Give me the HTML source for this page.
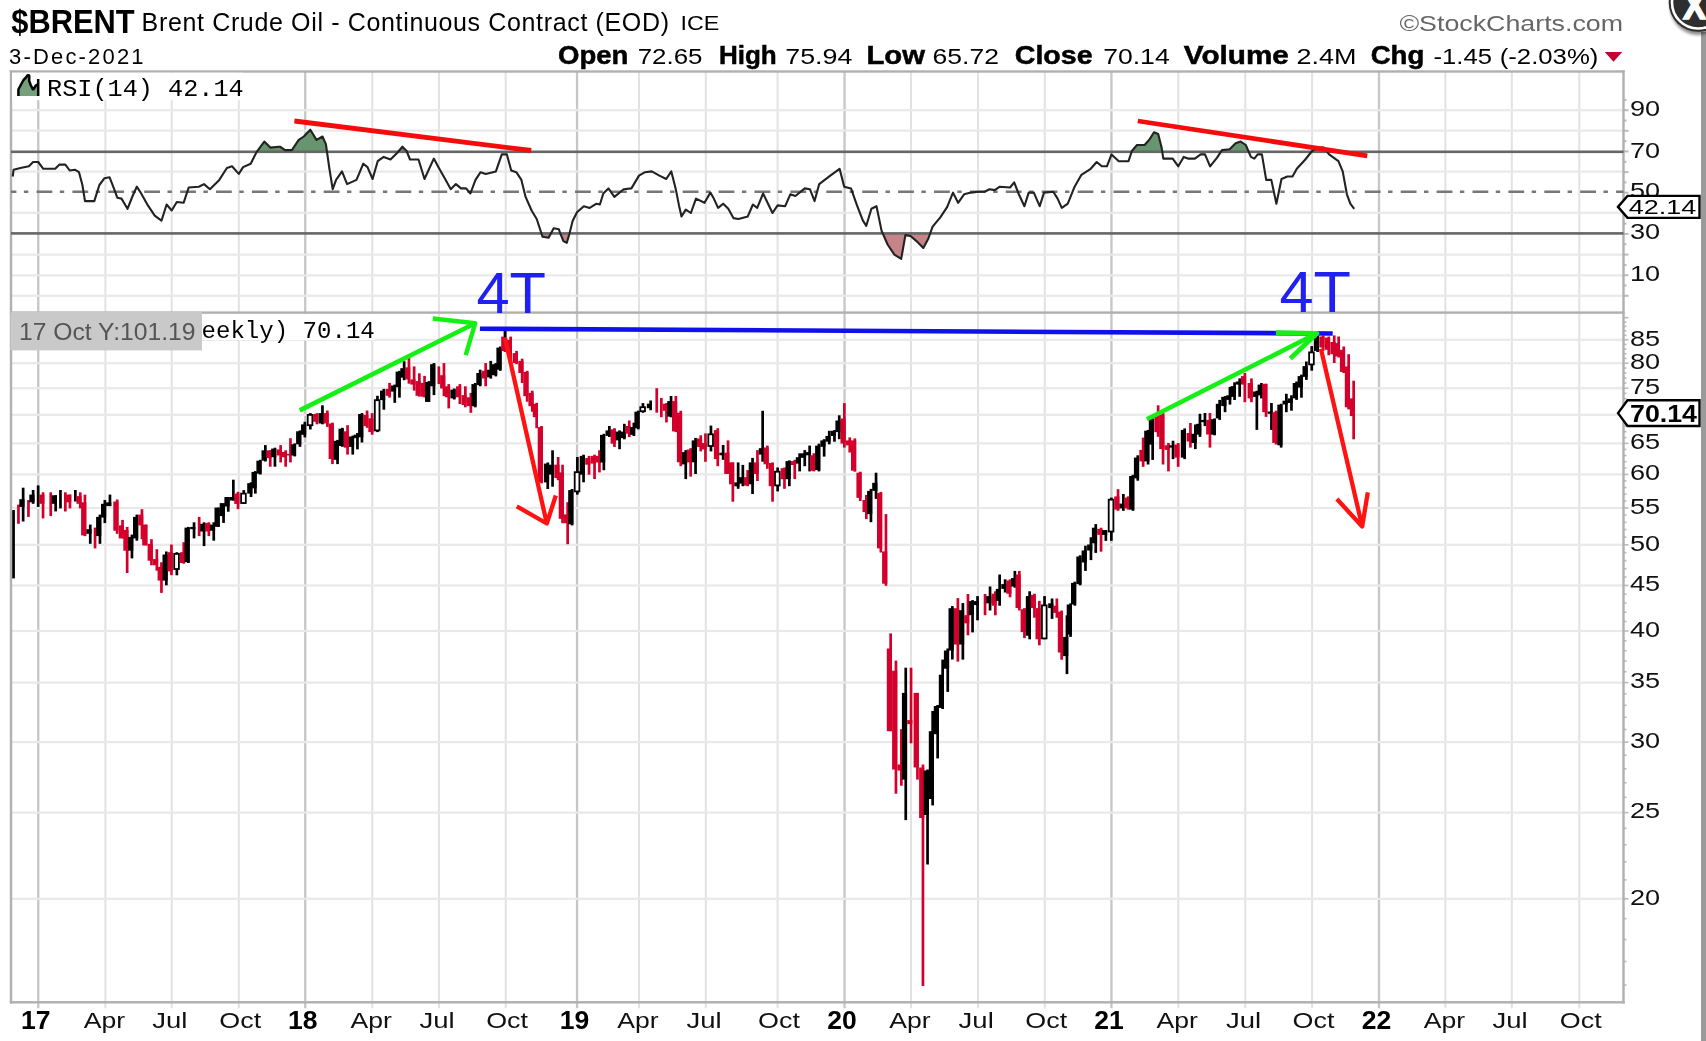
<!DOCTYPE html><html><head><meta charset="utf-8"><title>$BRENT</title><style>
html,body{margin:0;padding:0;background:#fff}body{width:1706px;height:1041px;position:relative;overflow:hidden;font-family:"Liberation Sans",sans-serif}
</style></head><body>
<div style="position:absolute;left:1701px;top:32px;width:5px;height:1009px;background:#9a9a9a"></div>
<svg width="1706" height="1041" viewBox="0 0 1706 1041" style="position:absolute;left:0;top:0;filter:blur(0.6px)">
<rect x="37.1" y="71.5" width="2.3" height="936.8" fill="#c6c6c6"/>
<rect x="104.4" y="71.5" width="2.0" height="936.8" fill="#e2e2e2"/>
<rect x="170.7" y="71.5" width="2.0" height="936.8" fill="#e2e2e2"/>
<rect x="237.8" y="71.5" width="2.0" height="936.8" fill="#e2e2e2"/>
<rect x="304.1" y="71.5" width="2.3" height="936.8" fill="#c6c6c6"/>
<rect x="371.3" y="71.5" width="2.0" height="936.8" fill="#e2e2e2"/>
<rect x="437.9" y="71.5" width="2.0" height="936.8" fill="#e2e2e2"/>
<rect x="504.7" y="71.5" width="2.0" height="936.8" fill="#e2e2e2"/>
<rect x="575.9" y="71.5" width="2.3" height="936.8" fill="#c6c6c6"/>
<rect x="638.0" y="71.5" width="2.0" height="936.8" fill="#e2e2e2"/>
<rect x="704.8" y="71.5" width="2.0" height="936.8" fill="#e2e2e2"/>
<rect x="776.6" y="71.5" width="2.0" height="936.8" fill="#e2e2e2"/>
<rect x="843.4" y="71.5" width="2.3" height="936.8" fill="#c6c6c6"/>
<rect x="910.0" y="71.5" width="2.0" height="936.8" fill="#e2e2e2"/>
<rect x="977.0" y="71.5" width="2.0" height="936.8" fill="#e2e2e2"/>
<rect x="1043.8" y="71.5" width="2.0" height="936.8" fill="#e2e2e2"/>
<rect x="1110.3" y="71.5" width="2.3" height="936.8" fill="#c6c6c6"/>
<rect x="1177.3" y="71.5" width="2.0" height="936.8" fill="#e2e2e2"/>
<rect x="1244.3" y="71.5" width="2.0" height="936.8" fill="#e2e2e2"/>
<rect x="1311.1" y="71.5" width="2.0" height="936.8" fill="#e2e2e2"/>
<rect x="1377.8" y="71.5" width="2.3" height="936.8" fill="#c6c6c6"/>
<rect x="1444.4" y="71.5" width="2.0" height="936.8" fill="#e2e2e2"/>
<rect x="1510.8" y="71.5" width="2.0" height="936.8" fill="#e2e2e2"/>
<rect x="1578.3" y="71.5" width="2.0" height="936.8" fill="#e2e2e2"/>
<rect x="11.0" y="109.1" width="1612.5" height="2.2" fill="#e9e9e9"/>
<rect x="11.0" y="129.5" width="1612.5" height="2.2" fill="#e9e9e9"/>
<rect x="11.0" y="170.5" width="1612.5" height="2.2" fill="#e9e9e9"/>
<rect x="11.0" y="211.7" width="1612.5" height="2.2" fill="#e9e9e9"/>
<rect x="11.0" y="253.5" width="1612.5" height="2.2" fill="#e9e9e9"/>
<rect x="11.0" y="274.3" width="1612.5" height="2.2" fill="#e9e9e9"/>
<rect x="11.0" y="294.7" width="1612.5" height="2.2" fill="#e9e9e9"/>
<rect x="11.0" y="338.7" width="1612.5" height="2.2" fill="#e9e9e9"/>
<rect x="11.0" y="362.1" width="1612.5" height="2.2" fill="#e9e9e9"/>
<rect x="11.0" y="387.1" width="1612.5" height="2.2" fill="#e9e9e9"/>
<rect x="11.0" y="413.7" width="1612.5" height="2.2" fill="#e9e9e9"/>
<rect x="11.0" y="442.3" width="1612.5" height="2.2" fill="#e9e9e9"/>
<rect x="11.0" y="473.3" width="1612.5" height="2.2" fill="#e9e9e9"/>
<rect x="11.0" y="506.9" width="1612.5" height="2.2" fill="#e9e9e9"/>
<rect x="11.0" y="543.7" width="1612.5" height="2.2" fill="#e9e9e9"/>
<rect x="11.0" y="584.4" width="1612.5" height="2.2" fill="#e9e9e9"/>
<rect x="11.0" y="629.9" width="1612.5" height="2.2" fill="#e9e9e9"/>
<rect x="11.0" y="681.5" width="1612.5" height="2.2" fill="#e9e9e9"/>
<rect x="11.0" y="741.0" width="1612.5" height="2.2" fill="#e9e9e9"/>
<rect x="11.0" y="811.5" width="1612.5" height="2.2" fill="#e9e9e9"/>
<rect x="11.0" y="897.7" width="1612.5" height="2.2" fill="#e9e9e9"/>
<rect x="1623.5" y="294.8" width="5" height="2" fill="#bbb"/>
<rect x="1623.5" y="284.5" width="3" height="2" fill="#bbb"/>
<rect x="1623.5" y="274.2" width="5" height="2" fill="#bbb"/>
<rect x="1623.5" y="263.9" width="3" height="2" fill="#bbb"/>
<rect x="1623.5" y="253.6" width="5" height="2" fill="#bbb"/>
<rect x="1623.5" y="243.2" width="3" height="2" fill="#bbb"/>
<rect x="1623.5" y="232.9" width="5" height="2" fill="#bbb"/>
<rect x="1623.5" y="222.6" width="3" height="2" fill="#bbb"/>
<rect x="1623.5" y="212.3" width="5" height="2" fill="#bbb"/>
<rect x="1623.5" y="202.0" width="3" height="2" fill="#bbb"/>
<rect x="1623.5" y="191.7" width="5" height="2" fill="#bbb"/>
<rect x="1623.5" y="181.4" width="3" height="2" fill="#bbb"/>
<rect x="1623.5" y="171.1" width="5" height="2" fill="#bbb"/>
<rect x="1623.5" y="160.8" width="3" height="2" fill="#bbb"/>
<rect x="1623.5" y="150.4" width="5" height="2" fill="#bbb"/>
<rect x="1623.5" y="140.1" width="3" height="2" fill="#bbb"/>
<rect x="1623.5" y="129.8" width="5" height="2" fill="#bbb"/>
<rect x="1623.5" y="119.5" width="3" height="2" fill="#bbb"/>
<rect x="1623.5" y="109.2" width="5" height="2" fill="#bbb"/>
<rect x="1623.5" y="98.9" width="3" height="2" fill="#bbb"/>
<rect x="1623.5" y="984.2" width="3" height="1.6" fill="#bbb"/>
<rect x="1623.5" y="960.7" width="3" height="1.6" fill="#bbb"/>
<rect x="1623.5" y="938.7" width="3" height="1.6" fill="#bbb"/>
<rect x="1623.5" y="917.8" width="3" height="1.6" fill="#bbb"/>
<rect x="1623.5" y="898.0" width="5" height="1.6" fill="#bbb"/>
<rect x="1623.5" y="879.1" width="3" height="1.6" fill="#bbb"/>
<rect x="1623.5" y="861.1" width="3" height="1.6" fill="#bbb"/>
<rect x="1623.5" y="844.0" width="3" height="1.6" fill="#bbb"/>
<rect x="1623.5" y="827.5" width="3" height="1.6" fill="#bbb"/>
<rect x="1623.5" y="811.8" width="5" height="1.6" fill="#bbb"/>
<rect x="1623.5" y="796.6" width="3" height="1.6" fill="#bbb"/>
<rect x="1623.5" y="782.0" width="3" height="1.6" fill="#bbb"/>
<rect x="1623.5" y="768.0" width="3" height="1.6" fill="#bbb"/>
<rect x="1623.5" y="754.4" width="3" height="1.6" fill="#bbb"/>
<rect x="1623.5" y="741.3" width="5" height="1.6" fill="#bbb"/>
<rect x="1623.5" y="728.7" width="3" height="1.6" fill="#bbb"/>
<rect x="1623.5" y="716.4" width="3" height="1.6" fill="#bbb"/>
<rect x="1623.5" y="704.5" width="3" height="1.6" fill="#bbb"/>
<rect x="1623.5" y="693.0" width="3" height="1.6" fill="#bbb"/>
<rect x="1623.5" y="681.8" width="5" height="1.6" fill="#bbb"/>
<rect x="1623.5" y="670.9" width="3" height="1.6" fill="#bbb"/>
<rect x="1623.5" y="660.3" width="3" height="1.6" fill="#bbb"/>
<rect x="1623.5" y="650.0" width="3" height="1.6" fill="#bbb"/>
<rect x="1623.5" y="640.0" width="3" height="1.6" fill="#bbb"/>
<rect x="1623.5" y="630.2" width="5" height="1.6" fill="#bbb"/>
<rect x="1623.5" y="620.7" width="3" height="1.6" fill="#bbb"/>
<rect x="1623.5" y="611.4" width="3" height="1.6" fill="#bbb"/>
<rect x="1623.5" y="602.3" width="3" height="1.6" fill="#bbb"/>
<rect x="1623.5" y="593.4" width="3" height="1.6" fill="#bbb"/>
<rect x="1623.5" y="584.7" width="5" height="1.6" fill="#bbb"/>
<rect x="1623.5" y="576.2" width="3" height="1.6" fill="#bbb"/>
<rect x="1623.5" y="567.9" width="3" height="1.6" fill="#bbb"/>
<rect x="1623.5" y="559.8" width="3" height="1.6" fill="#bbb"/>
<rect x="1623.5" y="551.8" width="3" height="1.6" fill="#bbb"/>
<rect x="1623.5" y="544.0" width="5" height="1.6" fill="#bbb"/>
<rect x="1623.5" y="536.4" width="3" height="1.6" fill="#bbb"/>
<rect x="1623.5" y="528.8" width="3" height="1.6" fill="#bbb"/>
<rect x="1623.5" y="521.5" width="3" height="1.6" fill="#bbb"/>
<rect x="1623.5" y="514.3" width="3" height="1.6" fill="#bbb"/>
<rect x="1623.5" y="507.2" width="5" height="1.6" fill="#bbb"/>
<rect x="1623.5" y="500.2" width="3" height="1.6" fill="#bbb"/>
<rect x="1623.5" y="493.4" width="3" height="1.6" fill="#bbb"/>
<rect x="1623.5" y="486.7" width="3" height="1.6" fill="#bbb"/>
<rect x="1623.5" y="480.1" width="3" height="1.6" fill="#bbb"/>
<rect x="1623.5" y="473.6" width="5" height="1.6" fill="#bbb"/>
<rect x="1623.5" y="467.2" width="3" height="1.6" fill="#bbb"/>
<rect x="1623.5" y="460.9" width="3" height="1.6" fill="#bbb"/>
<rect x="1623.5" y="454.7" width="3" height="1.6" fill="#bbb"/>
<rect x="1623.5" y="448.6" width="3" height="1.6" fill="#bbb"/>
<rect x="1623.5" y="442.6" width="5" height="1.6" fill="#bbb"/>
<rect x="1623.5" y="436.8" width="3" height="1.6" fill="#bbb"/>
<rect x="1623.5" y="430.9" width="3" height="1.6" fill="#bbb"/>
<rect x="1623.5" y="425.2" width="3" height="1.6" fill="#bbb"/>
<rect x="1623.5" y="419.6" width="3" height="1.6" fill="#bbb"/>
<rect x="1623.5" y="414.0" width="5" height="1.6" fill="#bbb"/>
<rect x="1623.5" y="408.5" width="3" height="1.6" fill="#bbb"/>
<rect x="1623.5" y="403.1" width="3" height="1.6" fill="#bbb"/>
<rect x="1623.5" y="397.8" width="3" height="1.6" fill="#bbb"/>
<rect x="1623.5" y="392.6" width="3" height="1.6" fill="#bbb"/>
<rect x="1623.5" y="387.4" width="5" height="1.6" fill="#bbb"/>
<rect x="1623.5" y="382.3" width="3" height="1.6" fill="#bbb"/>
<rect x="1623.5" y="377.2" width="3" height="1.6" fill="#bbb"/>
<rect x="1623.5" y="372.2" width="3" height="1.6" fill="#bbb"/>
<rect x="1623.5" y="367.3" width="3" height="1.6" fill="#bbb"/>
<rect x="1623.5" y="362.4" width="5" height="1.6" fill="#bbb"/>
<rect x="1623.5" y="357.6" width="3" height="1.6" fill="#bbb"/>
<rect x="1623.5" y="352.9" width="3" height="1.6" fill="#bbb"/>
<rect x="1623.5" y="348.2" width="3" height="1.6" fill="#bbb"/>
<rect x="1623.5" y="343.6" width="3" height="1.6" fill="#bbb"/>
<rect x="1623.5" y="339.0" width="5" height="1.6" fill="#bbb"/>
<rect x="1623.5" y="334.5" width="3" height="1.6" fill="#bbb"/>
<rect x="1623.5" y="330.0" width="3" height="1.6" fill="#bbb"/>
<rect x="1623.5" y="325.6" width="3" height="1.6" fill="#bbb"/>
<rect x="1623.5" y="321.3" width="3" height="1.6" fill="#bbb"/>
<rect x="1623.5" y="316.9" width="5" height="1.6" fill="#bbb"/>
<rect x="9.8" y="70.3" width="1614.9" height="2.4" fill="#b0b0b0"/>
<rect x="9.8" y="1001.0999999999999" width="1614.9" height="2.4" fill="#b0b0b0"/>
<rect x="9.8" y="311.40000000000003" width="1614.9" height="2.4" fill="#b0b0b0"/>
<rect x="9.8" y="70.3" width="2.4" height="933.2" fill="#b0b0b0"/>
<rect x="1622.3" y="70.3" width="2.4" height="933.2" fill="#b0b0b0"/>
<polygon points="256.7,151.8 264.3,141.6 270.3,147.6 278.8,146.7 280.0,146.7 285.1,150.1 291.9,150.1 298.7,139.9 303.8,136.5 310.3,129.7 316.5,139.9 322.5,136.5 325.9,144.2 327.0,151.8" fill="#66956e"/>
<polygon points="398.1,151.8 402.4,146.7 406.6,151.0 406.9,151.8" fill="#66956e"/>
<polygon points="1131.6,151.8 1131.9,151.0 1137.0,145.0 1144.6,145.0 1149.7,139.1 1154.0,132.3 1158.2,134.0 1161.6,147.6 1162.2,151.8" fill="#66956e"/>
<polygon points="1220.9,151.8 1222.0,150.1 1229.6,149.3 1235.6,143.3 1240.7,141.6 1245.8,145.0 1248.7,151.8" fill="#66956e"/>
<polygon points="1311.5,151.8 1312.1,151.0 1318.0,147.6 1324.0,147.6 1327.1,151.8" fill="#66956e"/>
<polygon points="541.5,233.4 542.6,236.8 548.6,237.7 550.9,233.4" fill="#c58588"/>
<polygon points="560.3,233.4 563.4,241.1 566.8,242.8 569.3,234.3 569.5,233.4" fill="#c58588"/>
<polygon points="882.7,233.4 887.6,244.5 894.4,254.7 901.2,258.9 905.4,235.1 910.5,236.0 916.5,241.1 923.3,247.9 928.4,238.5 930.2,233.4" fill="#c58588"/>
<rect x="11.0" y="150.5" width="1612.5" height="2.6" fill="#666"/>
<rect x="11.0" y="232.1" width="1612.5" height="2.6" fill="#666"/>
<line x1="11.0" y1="191.8" x2="1623.5" y2="191.8" stroke="#777" stroke-width="2.4" stroke-dasharray="15.8 7.5 4.4 8.2" stroke-dashoffset="10.4"/>
<polyline points="12.7,176.5 13.6,169.7 20.4,168.0 28.9,166.3 33.1,162.0 38.2,162.0 43.3,168.8 55.2,168.8 59.5,164.6 65.4,164.6 69.7,170.5 74.8,169.7 79.0,172.2 82.4,185.0 85.0,201.1 94.3,201.1 99.4,185.0 104.5,178.2 109.6,177.3 113.9,188.4 117.3,197.7 121.5,198.6 127.5,208.8 132.6,196.0 136.8,186.7 140.2,191.8 147.9,205.4 154.7,215.6 161.5,220.7 166.6,204.5 171.7,210.5 176.8,202.0 183.6,202.8 188.7,187.5 198.9,186.7 204.0,184.1 209.9,189.2 219.3,179.9 226.9,168.0 232.0,166.3 238.8,173.9 243.1,167.1 250.7,163.7 256.7,151.8 264.3,141.6 270.3,147.6 278.8,146.7 280.0,146.7 285.1,150.1 291.9,150.1 298.7,139.9 303.8,136.5 310.3,129.7 316.5,139.9 322.5,136.5 325.9,144.2 329.3,168.0 332.7,189.2 336.1,179.9 342.0,171.4 347.1,184.1 356.5,179.9 363.3,163.7 367.5,167.1 372.6,179.0 377.7,161.2 383.7,156.9 390.5,159.5 397.3,152.7 402.4,146.7 406.6,151.0 410.0,159.5 418.5,159.5 424.5,179.0 433.8,158.6 438.9,168.0 445.7,179.9 450.8,189.2 455.9,184.1 461.0,188.4 466.1,188.4 470.4,193.5 475.5,179.9 480.6,172.2 485.7,173.9 495.9,171.4 501.8,154.4 506.9,154.4 511.2,170.5 516.3,172.2 521.4,179.9 525.6,196.9 531.6,210.5 536.7,219.0 542.6,236.8 548.6,237.7 553.7,228.3 558.8,229.2 560.0,232.6 563.4,241.1 566.8,242.8 569.3,234.3 572.7,220.7 577.0,212.2 583.8,206.2 589.7,207.9 596.5,203.7 599.9,204.5 603.3,193.5 608.4,188.4 614.4,196.9 623.7,189.2 631.4,188.4 639.0,175.6 645.0,172.2 651.8,171.4 659.4,175.6 666.2,179.0 671.3,171.4 675.6,188.4 679.0,205.4 681.5,216.4 685.8,209.6 690.9,213.0 696.0,198.6 704.5,202.8 710.4,192.6 713.8,198.6 718.1,207.9 723.2,203.7 728.3,208.8 733.4,218.1 738.5,219.0 747.8,216.4 752.9,204.5 757.2,207.9 763.1,193.5 772.5,213.0 777.6,205.4 785.2,206.2 790.3,194.3 795.4,196.0 804.8,188.4 809.9,189.2 814.6,201.1 819.2,184.1 830.3,175.6 839.6,168.8 844.2,186.7 851.0,188.4 857.0,205.4 862.9,220.7 866.3,225.8 871.4,208.8 876.5,206.2 881.6,230.9 887.6,244.5 894.4,254.7 901.2,258.9 905.4,235.1 910.5,236.0 916.5,241.1 923.3,247.9 928.4,238.5 932.6,226.6 940.3,217.3 947.1,207.1 953.0,192.6 958.1,202.8 964.1,194.3 970.9,192.6 978.5,191.8 984.5,191.8 989.6,189.2 994.7,190.1 999.8,186.7 1010.0,187.5 1014.2,182.4 1018.5,193.5 1024.4,206.2 1028.7,192.6 1033.8,192.6 1039.7,206.2 1044.0,192.6 1053.3,191.8 1057.6,198.6 1061.8,207.9 1067.8,203.7 1074.6,186.7 1081.4,174.8 1090.7,168.8 1096.7,162.0 1101.8,166.3 1106.9,166.3 1111.5,154.4 1118.8,161.2 1120.0,161.2 1128.5,161.2 1131.9,151.0 1137.0,145.0 1144.6,145.0 1149.7,139.1 1154.0,132.3 1158.2,134.0 1161.6,147.6 1163.3,158.6 1172.7,158.6 1178.3,166.3 1183.7,156.9 1188.0,158.6 1194.8,158.6 1200.7,154.4 1205.0,154.4 1210.1,166.3 1216.9,157.8 1222.0,150.1 1229.6,149.3 1235.6,143.3 1240.7,141.6 1245.8,145.0 1250.9,156.9 1254.3,158.6 1257.7,154.4 1261.9,154.4 1266.2,179.9 1271.3,179.9 1276.4,203.7 1281.5,179.0 1287.4,176.5 1292.5,176.5 1296.8,168.8 1305.3,159.5 1312.1,151.0 1318.0,147.6 1324.0,147.6 1329.1,154.4 1338.4,161.2 1342.7,171.4 1346.9,194.3 1350.3,203.7 1354.2,208.8" fill="none" stroke="#222" stroke-width="2.1" stroke-linejoin="round"/>
<rect x="12.2" y="510.0" width="2.7" height="68.4" fill="#000"/>
<rect x="17.1" y="504.6" width="2.7" height="19.2" fill="#d4002c"/>
<rect x="21.8" y="487.7" width="2.7" height="33.8" fill="#000"/>
<rect x="19.3" y="499.2" width="5.2" height="7.7" fill="#000"/>
<rect x="27.1" y="500.0" width="2.7" height="16.9" fill="#d4002c"/>
<rect x="31.8" y="490.0" width="2.7" height="13.8" fill="#000"/>
<rect x="29.3" y="494.6" width="5.2" height="7.7" fill="#000"/>
<rect x="36.8" y="485.4" width="2.7" height="21.5" fill="#000"/>
<rect x="41.7" y="492.3" width="2.7" height="26.1" fill="#d4002c"/>
<rect x="39.2" y="494.6" width="5.2" height="9.2" fill="#d4002c"/>
<rect x="49.4" y="492.3" width="2.7" height="23.8" fill="#d4002c"/>
<rect x="54.3" y="495.3" width="2.7" height="16.1" fill="#000"/>
<rect x="51.8" y="495.3" width="5.2" height="8.5" fill="#000"/>
<rect x="59.1" y="490.0" width="2.7" height="18.4" fill="#000"/>
<rect x="64.0" y="492.3" width="2.7" height="19.2" fill="#d4002c"/>
<rect x="68.6" y="494.6" width="2.7" height="13.8" fill="#d4002c"/>
<rect x="66.1" y="494.6" width="5.2" height="7.7" fill="#d4002c"/>
<rect x="74.0" y="490.0" width="2.7" height="11.5" fill="#000"/>
<rect x="78.9" y="492.3" width="2.7" height="16.1" fill="#d4002c"/>
<rect x="76.4" y="496.1" width="5.2" height="7.7" fill="#d4002c"/>
<rect x="83.6" y="494.6" width="2.7" height="41.5" fill="#d4002c"/>
<rect x="81.1" y="502.3" width="5.2" height="33.1" fill="#d4002c"/>
<rect x="88.9" y="524.6" width="2.7" height="19.2" fill="#000"/>
<rect x="86.4" y="529.2" width="5.2" height="4.6" fill="#000"/>
<rect x="93.7" y="527.6" width="2.7" height="20.8" fill="#d4002c"/>
<rect x="98.6" y="514.6" width="2.7" height="29.2" fill="#000"/>
<rect x="96.1" y="516.9" width="5.2" height="19.2" fill="#000"/>
<rect x="103.5" y="500.0" width="2.7" height="23.1" fill="#000"/>
<rect x="101.0" y="503.8" width="5.2" height="13.8" fill="#000"/>
<rect x="108.6" y="494.6" width="2.7" height="11.5" fill="#000"/>
<rect x="106.1" y="502.3" width="5.2" height="3.8" fill="#000"/>
<rect x="115.8" y="499.5" width="2.7" height="34.3" fill="#d4002c"/>
<rect x="113.3" y="501.5" width="5.2" height="29.2" fill="#d4002c"/>
<rect x="121.2" y="519.9" width="2.7" height="18.4" fill="#d4002c"/>
<rect x="118.7" y="525.3" width="5.2" height="13.1" fill="#d4002c"/>
<rect x="125.8" y="526.9" width="2.7" height="46.1" fill="#d4002c"/>
<rect x="123.3" y="529.9" width="5.2" height="20.8" fill="#d4002c"/>
<rect x="130.6" y="534.6" width="2.7" height="23.8" fill="#000"/>
<rect x="128.1" y="536.9" width="5.2" height="13.8" fill="#000"/>
<rect x="135.5" y="514.6" width="2.7" height="26.1" fill="#000"/>
<rect x="133.0" y="516.9" width="5.2" height="21.5" fill="#000"/>
<rect x="140.6" y="509.2" width="2.7" height="30.0" fill="#d4002c"/>
<rect x="138.1" y="514.6" width="5.2" height="10.8" fill="#d4002c"/>
<rect x="144.7" y="524.6" width="2.7" height="20.8" fill="#d4002c"/>
<rect x="142.2" y="524.6" width="5.2" height="20.8" fill="#d4002c"/>
<rect x="150.1" y="539.2" width="2.7" height="26.1" fill="#d4002c"/>
<rect x="147.6" y="543.8" width="5.2" height="16.9" fill="#d4002c"/>
<rect x="155.5" y="549.2" width="2.7" height="21.5" fill="#d4002c"/>
<rect x="153.0" y="559.1" width="5.2" height="6.1" fill="#d4002c"/>
<rect x="160.1" y="562.2" width="2.7" height="30.7" fill="#d4002c"/>
<rect x="157.6" y="566.8" width="5.2" height="13.8" fill="#d4002c"/>
<rect x="165.0" y="551.5" width="2.7" height="33.8" fill="#000"/>
<rect x="162.5" y="554.5" width="5.2" height="26.1" fill="#000"/>
<rect x="170.1" y="544.5" width="2.7" height="30.7" fill="#d4002c"/>
<rect x="167.6" y="552.2" width="5.2" height="19.2" fill="#d4002c"/>
<rect x="175.5" y="552.2" width="2.7" height="23.1" fill="#000"/>
<rect x="174.2" y="553.9" width="4.7" height="15.1" fill="#fff" stroke="#000" stroke-width="1.8"/>
<rect x="182.4" y="542.2" width="2.7" height="21.5" fill="#d4002c"/>
<rect x="179.9" y="552.2" width="5.2" height="10.8" fill="#d4002c"/>
<rect x="187.0" y="526.9" width="2.7" height="36.1" fill="#000"/>
<rect x="184.5" y="527.6" width="5.2" height="34.6" fill="#000"/>
<rect x="192.7" y="522.3" width="2.7" height="16.1" fill="#000"/>
<rect x="190.2" y="526.9" width="5.2" height="2.3" fill="#000"/>
<rect x="197.8" y="516.9" width="2.7" height="19.2" fill="#d4002c"/>
<rect x="202.7" y="522.3" width="2.7" height="23.8" fill="#000"/>
<rect x="200.2" y="523.8" width="5.2" height="7.7" fill="#000"/>
<rect x="207.5" y="522.3" width="2.7" height="13.8" fill="#d4002c"/>
<rect x="205.0" y="523.0" width="5.2" height="8.5" fill="#d4002c"/>
<rect x="212.4" y="522.3" width="2.7" height="18.4" fill="#000"/>
<rect x="209.9" y="524.6" width="5.2" height="6.1" fill="#000"/>
<rect x="217.0" y="507.6" width="2.7" height="19.2" fill="#000"/>
<rect x="214.5" y="507.6" width="5.2" height="19.2" fill="#000"/>
<rect x="222.2" y="503.9" width="2.7" height="19.0" fill="#000"/>
<rect x="219.7" y="503.1" width="5.2" height="13.0" fill="#000"/>
<rect x="226.9" y="497.0" width="2.7" height="14.7" fill="#000"/>
<rect x="224.4" y="497.0" width="5.2" height="9.5" fill="#000"/>
<rect x="232.0" y="479.7" width="2.7" height="20.8" fill="#000"/>
<rect x="229.5" y="497.0" width="5.2" height="3.5" fill="#000"/>
<rect x="236.7" y="491.8" width="2.7" height="17.3" fill="#d4002c"/>
<rect x="234.2" y="493.5" width="5.2" height="10.4" fill="#d4002c"/>
<rect x="242.4" y="490.1" width="2.7" height="13.8" fill="#000"/>
<rect x="241.1" y="493.6" width="4.7" height="9.4" fill="#fff" stroke="#000" stroke-width="1.8"/>
<rect x="249.7" y="482.3" width="2.7" height="14.7" fill="#000"/>
<rect x="247.2" y="483.2" width="5.2" height="10.4" fill="#000"/>
<rect x="254.0" y="471.1" width="2.7" height="22.5" fill="#000"/>
<rect x="251.5" y="471.9" width="5.2" height="16.4" fill="#000"/>
<rect x="258.9" y="459.8" width="2.7" height="14.7" fill="#000"/>
<rect x="256.4" y="460.7" width="5.2" height="13.0" fill="#000"/>
<rect x="264.0" y="445.1" width="2.7" height="16.4" fill="#000"/>
<rect x="261.5" y="450.3" width="5.2" height="10.4" fill="#000"/>
<rect x="268.9" y="450.3" width="2.7" height="16.4" fill="#d4002c"/>
<rect x="266.4" y="450.3" width="5.2" height="7.8" fill="#d4002c"/>
<rect x="273.6" y="447.7" width="2.7" height="19.0" fill="#000"/>
<rect x="271.1" y="448.6" width="5.2" height="8.6" fill="#000"/>
<rect x="279.3" y="445.1" width="2.7" height="17.3" fill="#d4002c"/>
<rect x="276.8" y="449.4" width="5.2" height="6.1" fill="#d4002c"/>
<rect x="284.3" y="450.3" width="2.7" height="16.4" fill="#d4002c"/>
<rect x="281.8" y="452.0" width="5.2" height="5.2" fill="#d4002c"/>
<rect x="289.1" y="438.2" width="2.7" height="24.2" fill="#d4002c"/>
<rect x="286.6" y="453.8" width="5.2" height="1.7" fill="#d4002c"/>
<rect x="293.4" y="443.4" width="2.7" height="13.0" fill="#000"/>
<rect x="290.9" y="444.3" width="5.2" height="11.2" fill="#000"/>
<rect x="298.6" y="430.4" width="2.7" height="16.4" fill="#000"/>
<rect x="296.1" y="431.3" width="5.2" height="13.0" fill="#000"/>
<rect x="303.5" y="421.8" width="2.7" height="15.6" fill="#000"/>
<rect x="301.0" y="424.4" width="5.2" height="10.4" fill="#000"/>
<rect x="309.0" y="413.1" width="2.7" height="16.4" fill="#000"/>
<rect x="307.7" y="414.9" width="4.7" height="10.3" fill="#fff" stroke="#000" stroke-width="1.8"/>
<rect x="315.6" y="413.1" width="2.7" height="11.2" fill="#d4002c"/>
<rect x="313.1" y="414.0" width="5.2" height="7.8" fill="#d4002c"/>
<rect x="321.1" y="405.3" width="2.7" height="19.0" fill="#000"/>
<rect x="318.6" y="413.1" width="5.2" height="10.4" fill="#000"/>
<rect x="326.0" y="410.5" width="2.7" height="16.4" fill="#d4002c"/>
<rect x="323.5" y="413.1" width="5.2" height="10.4" fill="#d4002c"/>
<rect x="331.1" y="422.6" width="2.7" height="41.5" fill="#d4002c"/>
<rect x="328.6" y="423.5" width="5.2" height="35.5" fill="#d4002c"/>
<rect x="336.2" y="439.9" width="2.7" height="24.2" fill="#000"/>
<rect x="333.7" y="440.8" width="5.2" height="19.0" fill="#000"/>
<rect x="341.0" y="427.8" width="2.7" height="19.0" fill="#000"/>
<rect x="338.5" y="428.7" width="5.2" height="17.3" fill="#000"/>
<rect x="346.2" y="425.2" width="2.7" height="29.4" fill="#d4002c"/>
<rect x="343.7" y="431.3" width="5.2" height="16.4" fill="#d4002c"/>
<rect x="351.4" y="435.6" width="2.7" height="19.0" fill="#000"/>
<rect x="348.9" y="436.5" width="5.2" height="10.4" fill="#000"/>
<rect x="356.1" y="433.0" width="2.7" height="16.4" fill="#000"/>
<rect x="353.6" y="434.7" width="5.2" height="3.5" fill="#000"/>
<rect x="360.6" y="413.1" width="2.7" height="29.4" fill="#000"/>
<rect x="358.1" y="414.0" width="5.2" height="23.3" fill="#000"/>
<rect x="365.7" y="410.5" width="2.7" height="17.3" fill="#d4002c"/>
<rect x="363.2" y="414.9" width="5.2" height="11.2" fill="#d4002c"/>
<rect x="370.8" y="413.1" width="2.7" height="21.6" fill="#d4002c"/>
<rect x="368.3" y="418.3" width="5.2" height="13.8" fill="#d4002c"/>
<rect x="376.1" y="395.8" width="2.7" height="36.3" fill="#000"/>
<rect x="374.8" y="400.2" width="4.7" height="30.2" fill="#fff" stroke="#000" stroke-width="1.8"/>
<rect x="382.5" y="388.9" width="2.7" height="20.8" fill="#000"/>
<rect x="380.0" y="390.6" width="5.2" height="9.5" fill="#000"/>
<rect x="388.2" y="382.9" width="2.7" height="14.7" fill="#d4002c"/>
<rect x="385.7" y="388.9" width="5.2" height="6.9" fill="#d4002c"/>
<rect x="393.4" y="384.6" width="2.7" height="18.2" fill="#000"/>
<rect x="390.9" y="385.5" width="5.2" height="6.1" fill="#000"/>
<rect x="398.1" y="370.8" width="2.7" height="26.8" fill="#000"/>
<rect x="395.6" y="371.6" width="5.2" height="15.6" fill="#000"/>
<rect x="402.8" y="361.2" width="2.7" height="19.0" fill="#000"/>
<rect x="400.3" y="368.2" width="5.2" height="9.5" fill="#000"/>
<rect x="407.6" y="357.8" width="2.7" height="25.9" fill="#d4002c"/>
<rect x="405.1" y="367.3" width="5.2" height="12.1" fill="#d4002c"/>
<rect x="412.8" y="366.4" width="2.7" height="24.2" fill="#d4002c"/>
<rect x="410.3" y="379.4" width="5.2" height="5.2" fill="#d4002c"/>
<rect x="418.0" y="373.3" width="2.7" height="23.3" fill="#d4002c"/>
<rect x="415.5" y="381.1" width="5.2" height="14.7" fill="#d4002c"/>
<rect x="423.2" y="375.9" width="2.7" height="21.6" fill="#d4002c"/>
<rect x="420.7" y="382.9" width="5.2" height="13.8" fill="#d4002c"/>
<rect x="427.5" y="381.1" width="2.7" height="20.8" fill="#000"/>
<rect x="425.0" y="382.0" width="5.2" height="19.9" fill="#000"/>
<rect x="432.6" y="363.1" width="2.7" height="32.0" fill="#000"/>
<rect x="430.1" y="364.2" width="5.2" height="22.1" fill="#000"/>
<rect x="437.5" y="366.4" width="2.7" height="17.7" fill="#d4002c"/>
<rect x="442.6" y="363.1" width="2.7" height="33.1" fill="#d4002c"/>
<rect x="440.1" y="375.2" width="5.2" height="13.3" fill="#d4002c"/>
<rect x="447.4" y="384.1" width="2.7" height="24.3" fill="#d4002c"/>
<rect x="444.9" y="386.3" width="5.2" height="11.0" fill="#d4002c"/>
<rect x="452.9" y="388.5" width="2.7" height="11.0" fill="#000"/>
<rect x="450.4" y="389.6" width="5.2" height="8.8" fill="#000"/>
<rect x="458.5" y="384.1" width="2.7" height="19.9" fill="#d4002c"/>
<rect x="456.0" y="386.3" width="5.2" height="11.0" fill="#d4002c"/>
<rect x="464.0" y="386.3" width="2.7" height="21.0" fill="#d4002c"/>
<rect x="461.5" y="395.1" width="5.2" height="9.9" fill="#d4002c"/>
<rect x="469.5" y="392.9" width="2.7" height="19.9" fill="#d4002c"/>
<rect x="467.0" y="397.3" width="5.2" height="8.8" fill="#d4002c"/>
<rect x="473.9" y="383.0" width="2.7" height="24.3" fill="#000"/>
<rect x="471.4" y="384.1" width="5.2" height="22.1" fill="#000"/>
<rect x="478.8" y="369.7" width="2.7" height="16.6" fill="#000"/>
<rect x="476.3" y="373.0" width="5.2" height="12.1" fill="#000"/>
<rect x="484.3" y="363.1" width="2.7" height="23.2" fill="#d4002c"/>
<rect x="481.8" y="370.8" width="5.2" height="7.7" fill="#d4002c"/>
<rect x="489.4" y="360.9" width="2.7" height="17.7" fill="#000"/>
<rect x="486.9" y="369.7" width="5.2" height="7.7" fill="#000"/>
<rect x="494.5" y="363.1" width="2.7" height="13.3" fill="#000"/>
<rect x="492.0" y="364.2" width="5.2" height="11.0" fill="#000"/>
<rect x="498.9" y="346.5" width="2.7" height="24.3" fill="#000"/>
<rect x="496.4" y="347.6" width="5.2" height="22.1" fill="#000"/>
<rect x="503.7" y="329.9" width="2.7" height="22.1" fill="#d4002c"/>
<rect x="501.2" y="336.6" width="5.2" height="14.4" fill="#d4002c"/>
<rect x="509.3" y="336.6" width="2.7" height="24.3" fill="#d4002c"/>
<rect x="506.8" y="339.9" width="5.2" height="13.3" fill="#d4002c"/>
<rect x="515.2" y="350.9" width="2.7" height="13.3" fill="#d4002c"/>
<rect x="512.7" y="353.1" width="5.2" height="9.9" fill="#d4002c"/>
<rect x="520.8" y="358.7" width="2.7" height="24.3" fill="#d4002c"/>
<rect x="518.3" y="360.9" width="5.2" height="12.1" fill="#d4002c"/>
<rect x="525.8" y="370.8" width="2.7" height="30.9" fill="#d4002c"/>
<rect x="523.3" y="371.9" width="5.2" height="24.3" fill="#d4002c"/>
<rect x="530.9" y="390.7" width="2.7" height="21.0" fill="#d4002c"/>
<rect x="528.4" y="392.9" width="5.2" height="13.3" fill="#d4002c"/>
<rect x="535.3" y="402.8" width="2.7" height="25.4" fill="#d4002c"/>
<rect x="532.8" y="403.9" width="5.2" height="13.3" fill="#d4002c"/>
<rect x="540.2" y="426.0" width="2.7" height="57.4" fill="#d4002c"/>
<rect x="537.7" y="427.1" width="5.2" height="55.2" fill="#d4002c"/>
<rect x="546.4" y="462.5" width="2.7" height="26.5" fill="#000"/>
<rect x="543.9" y="463.6" width="5.2" height="18.8" fill="#000"/>
<rect x="551.2" y="450.3" width="2.7" height="36.4" fill="#000"/>
<rect x="548.7" y="464.7" width="5.2" height="9.9" fill="#000"/>
<rect x="556.8" y="457.0" width="2.7" height="23.2" fill="#d4002c"/>
<rect x="554.3" y="464.7" width="5.2" height="13.3" fill="#d4002c"/>
<rect x="561.2" y="464.7" width="2.7" height="58.5" fill="#d4002c"/>
<rect x="558.7" y="472.4" width="5.2" height="46.4" fill="#d4002c"/>
<rect x="566.3" y="502.2" width="2.7" height="42.0" fill="#d4002c"/>
<rect x="563.8" y="514.4" width="5.2" height="8.8" fill="#d4002c"/>
<rect x="570.7" y="489.0" width="2.7" height="36.4" fill="#000"/>
<rect x="568.2" y="490.1" width="5.2" height="34.2" fill="#000"/>
<rect x="576.0" y="457.0" width="2.7" height="37.6" fill="#000"/>
<rect x="574.7" y="472.2" width="4.7" height="19.2" fill="#fff" stroke="#000" stroke-width="1.8"/>
<rect x="582.2" y="454.7" width="2.7" height="27.6" fill="#000"/>
<rect x="579.7" y="455.9" width="5.2" height="18.8" fill="#000"/>
<rect x="587.7" y="455.9" width="2.7" height="18.8" fill="#d4002c"/>
<rect x="585.2" y="458.1" width="5.2" height="6.6" fill="#d4002c"/>
<rect x="593.2" y="454.7" width="2.7" height="24.3" fill="#d4002c"/>
<rect x="590.7" y="455.9" width="5.2" height="7.7" fill="#d4002c"/>
<rect x="598.1" y="450.3" width="2.7" height="22.1" fill="#d4002c"/>
<rect x="595.6" y="455.9" width="5.2" height="6.6" fill="#d4002c"/>
<rect x="602.5" y="433.8" width="2.7" height="36.4" fill="#000"/>
<rect x="600.0" y="434.9" width="5.2" height="27.6" fill="#000"/>
<rect x="608.0" y="426.0" width="2.7" height="11.0" fill="#000"/>
<rect x="605.5" y="430.4" width="5.2" height="5.5" fill="#000"/>
<rect x="613.1" y="428.2" width="2.7" height="18.8" fill="#d4002c"/>
<rect x="610.6" y="429.3" width="5.2" height="14.4" fill="#d4002c"/>
<rect x="618.2" y="430.4" width="2.7" height="18.8" fill="#000"/>
<rect x="615.7" y="431.6" width="5.2" height="8.8" fill="#000"/>
<rect x="623.0" y="423.8" width="2.7" height="15.5" fill="#000"/>
<rect x="620.5" y="431.6" width="5.2" height="6.6" fill="#000"/>
<rect x="627.9" y="420.5" width="2.7" height="16.6" fill="#d4002c"/>
<rect x="625.4" y="426.0" width="5.2" height="7.7" fill="#d4002c"/>
<rect x="632.5" y="422.7" width="2.7" height="13.3" fill="#000"/>
<rect x="630.0" y="427.1" width="5.2" height="7.7" fill="#000"/>
<rect x="636.9" y="410.6" width="2.7" height="18.8" fill="#000"/>
<rect x="634.4" y="411.7" width="5.2" height="16.6" fill="#000"/>
<rect x="641.6" y="403.1" width="2.7" height="9.7" fill="#000"/>
<rect x="640.3" y="407.2" width="4.7" height="4.0" fill="#fff" stroke="#000" stroke-width="1.8"/>
<rect x="649.3" y="400.5" width="2.7" height="9.7" fill="#000"/>
<rect x="646.8" y="403.7" width="5.2" height="4.5" fill="#000"/>
<rect x="655.4" y="388.2" width="2.7" height="24.5" fill="#d4002c"/>
<rect x="660.0" y="397.9" width="2.7" height="19.3" fill="#d4002c"/>
<rect x="665.1" y="403.1" width="2.7" height="19.3" fill="#d4002c"/>
<rect x="662.6" y="403.7" width="5.2" height="7.1" fill="#d4002c"/>
<rect x="669.7" y="396.0" width="2.7" height="21.3" fill="#000"/>
<rect x="667.2" y="401.1" width="5.2" height="15.5" fill="#000"/>
<rect x="674.5" y="396.0" width="2.7" height="36.1" fill="#d4002c"/>
<rect x="672.0" y="401.1" width="5.2" height="30.3" fill="#d4002c"/>
<rect x="679.4" y="410.8" width="2.7" height="55.4" fill="#d4002c"/>
<rect x="676.9" y="412.7" width="5.2" height="49.6" fill="#d4002c"/>
<rect x="684.4" y="450.1" width="2.7" height="29.0" fill="#000"/>
<rect x="681.9" y="452.1" width="5.2" height="12.3" fill="#000"/>
<rect x="689.3" y="448.2" width="2.7" height="28.4" fill="#d4002c"/>
<rect x="686.8" y="449.5" width="5.2" height="12.9" fill="#d4002c"/>
<rect x="694.2" y="437.9" width="2.7" height="36.1" fill="#000"/>
<rect x="691.7" y="440.4" width="5.2" height="21.9" fill="#000"/>
<rect x="699.4" y="435.3" width="2.7" height="16.1" fill="#d4002c"/>
<rect x="696.9" y="438.5" width="5.2" height="8.4" fill="#d4002c"/>
<rect x="704.1" y="433.4" width="2.7" height="28.4" fill="#d4002c"/>
<rect x="701.6" y="443.0" width="5.2" height="6.4" fill="#d4002c"/>
<rect x="709.6" y="425.6" width="2.7" height="25.8" fill="#000"/>
<rect x="708.3" y="434.3" width="4.7" height="11.7" fill="#fff" stroke="#000" stroke-width="1.8"/>
<rect x="716.4" y="428.2" width="2.7" height="38.0" fill="#d4002c"/>
<rect x="713.9" y="430.1" width="5.2" height="29.0" fill="#d4002c"/>
<rect x="721.8" y="445.0" width="2.7" height="14.8" fill="#000"/>
<rect x="719.3" y="452.7" width="5.2" height="2.6" fill="#000"/>
<rect x="726.7" y="440.4" width="2.7" height="33.5" fill="#d4002c"/>
<rect x="724.2" y="452.7" width="5.2" height="21.3" fill="#d4002c"/>
<rect x="731.5" y="462.4" width="2.7" height="39.3" fill="#d4002c"/>
<rect x="729.0" y="462.4" width="5.2" height="21.9" fill="#d4002c"/>
<rect x="736.8" y="462.4" width="2.7" height="26.4" fill="#000"/>
<rect x="734.3" y="482.4" width="5.2" height="3.9" fill="#000"/>
<rect x="741.5" y="464.9" width="2.7" height="21.3" fill="#000"/>
<rect x="739.0" y="477.2" width="5.2" height="6.4" fill="#000"/>
<rect x="746.3" y="470.1" width="2.7" height="16.1" fill="#d4002c"/>
<rect x="743.8" y="477.2" width="5.2" height="8.4" fill="#d4002c"/>
<rect x="751.2" y="457.9" width="2.7" height="36.1" fill="#000"/>
<rect x="748.7" y="462.4" width="5.2" height="21.9" fill="#000"/>
<rect x="756.1" y="450.1" width="2.7" height="30.9" fill="#d4002c"/>
<rect x="753.6" y="462.4" width="5.2" height="11.6" fill="#d4002c"/>
<rect x="761.3" y="410.8" width="2.7" height="50.9" fill="#000"/>
<rect x="758.8" y="448.2" width="5.2" height="6.4" fill="#000"/>
<rect x="766.0" y="445.6" width="2.7" height="23.2" fill="#d4002c"/>
<rect x="763.5" y="447.5" width="5.2" height="16.8" fill="#d4002c"/>
<rect x="771.2" y="462.4" width="2.7" height="39.3" fill="#d4002c"/>
<rect x="768.7" y="463.0" width="5.2" height="23.2" fill="#d4002c"/>
<rect x="776.3" y="467.5" width="2.7" height="23.9" fill="#000"/>
<rect x="775.0" y="471.7" width="4.7" height="13.7" fill="#fff" stroke="#000" stroke-width="1.8"/>
<rect x="783.1" y="467.5" width="2.7" height="21.3" fill="#d4002c"/>
<rect x="780.6" y="468.2" width="5.2" height="11.0" fill="#d4002c"/>
<rect x="788.0" y="460.4" width="2.7" height="25.8" fill="#000"/>
<rect x="785.5" y="461.1" width="5.2" height="18.1" fill="#000"/>
<rect x="793.4" y="459.8" width="2.7" height="19.3" fill="#d4002c"/>
<rect x="790.9" y="461.1" width="5.2" height="3.9" fill="#d4002c"/>
<rect x="798.3" y="453.3" width="2.7" height="18.1" fill="#000"/>
<rect x="795.8" y="457.2" width="5.2" height="6.4" fill="#000"/>
<rect x="803.4" y="450.1" width="2.7" height="16.1" fill="#000"/>
<rect x="800.9" y="453.3" width="5.2" height="4.5" fill="#000"/>
<rect x="808.3" y="445.6" width="2.7" height="25.8" fill="#000"/>
<rect x="805.8" y="452.1" width="5.2" height="3.2" fill="#000"/>
<rect x="812.5" y="453.3" width="2.7" height="18.1" fill="#d4002c"/>
<rect x="810.0" y="455.3" width="5.2" height="15.5" fill="#d4002c"/>
<rect x="817.6" y="443.7" width="2.7" height="27.7" fill="#000"/>
<rect x="815.1" y="445.6" width="5.2" height="24.5" fill="#000"/>
<rect x="822.8" y="439.2" width="2.7" height="17.4" fill="#000"/>
<rect x="820.3" y="440.4" width="5.2" height="6.4" fill="#000"/>
<rect x="827.9" y="430.8" width="2.7" height="13.5" fill="#000"/>
<rect x="825.4" y="435.9" width="5.2" height="5.8" fill="#000"/>
<rect x="833.1" y="430.1" width="2.7" height="11.6" fill="#000"/>
<rect x="830.6" y="430.8" width="5.2" height="5.2" fill="#000"/>
<rect x="837.9" y="415.3" width="2.7" height="23.9" fill="#000"/>
<rect x="835.4" y="420.5" width="5.2" height="11.6" fill="#000"/>
<rect x="843.0" y="403.1" width="2.7" height="44.5" fill="#d4002c"/>
<rect x="840.5" y="418.5" width="5.2" height="25.1" fill="#d4002c"/>
<rect x="848.4" y="437.4" width="2.7" height="15.1" fill="#d4002c"/>
<rect x="845.9" y="440.4" width="5.2" height="5.0" fill="#d4002c"/>
<rect x="853.5" y="438.4" width="2.7" height="33.3" fill="#d4002c"/>
<rect x="851.0" y="440.4" width="5.2" height="30.3" fill="#d4002c"/>
<rect x="858.9" y="471.7" width="2.7" height="29.3" fill="#d4002c"/>
<rect x="856.4" y="472.7" width="5.2" height="25.2" fill="#d4002c"/>
<rect x="865.0" y="494.9" width="2.7" height="24.2" fill="#d4002c"/>
<rect x="862.5" y="500.0" width="5.2" height="12.1" fill="#d4002c"/>
<rect x="869.6" y="488.9" width="2.7" height="33.3" fill="#000"/>
<rect x="867.1" y="490.9" width="5.2" height="23.2" fill="#000"/>
<rect x="874.7" y="472.7" width="2.7" height="26.2" fill="#000"/>
<rect x="872.2" y="482.8" width="5.2" height="8.1" fill="#000"/>
<rect x="879.5" y="491.9" width="2.7" height="60.6" fill="#d4002c"/>
<rect x="877.0" y="492.9" width="5.2" height="55.5" fill="#d4002c"/>
<rect x="884.6" y="514.1" width="2.7" height="71.7" fill="#d4002c"/>
<rect x="882.1" y="551.4" width="5.2" height="32.3" fill="#d4002c"/>
<rect x="889.3" y="633.4" width="2.7" height="97.8" fill="#d4002c"/>
<rect x="886.8" y="648.5" width="5.2" height="82.7" fill="#d4002c"/>
<rect x="894.6" y="660.6" width="2.7" height="133.1" fill="#d4002c"/>
<rect x="892.1" y="670.7" width="5.2" height="98.8" fill="#d4002c"/>
<rect x="900.0" y="729.2" width="2.7" height="56.5" fill="#d4002c"/>
<rect x="897.5" y="764.5" width="5.2" height="6.1" fill="#d4002c"/>
<rect x="904.4" y="667.7" width="2.7" height="152.4" fill="#000"/>
<rect x="901.9" y="692.9" width="5.2" height="86.7" fill="#000"/>
<rect x="909.7" y="667.7" width="2.7" height="75.6" fill="#d4002c"/>
<rect x="907.2" y="720.1" width="5.2" height="4.0" fill="#d4002c"/>
<rect x="916.1" y="692.9" width="2.7" height="86.7" fill="#d4002c"/>
<rect x="913.6" y="692.9" width="5.2" height="74.6" fill="#d4002c"/>
<rect x="921.6" y="764.5" width="2.7" height="221.5" fill="#d4002c"/>
<rect x="919.1" y="767.5" width="5.2" height="50.5" fill="#d4002c"/>
<rect x="926.2" y="769.5" width="2.7" height="95.0" fill="#000"/>
<rect x="923.7" y="770.5" width="5.2" height="44.5" fill="#000"/>
<rect x="931.3" y="711.0" width="2.7" height="94.4" fill="#000"/>
<rect x="928.8" y="731.2" width="5.2" height="67.8" fill="#000"/>
<rect x="936.3" y="705.0" width="2.7" height="53.4" fill="#000"/>
<rect x="933.8" y="706.0" width="5.2" height="28.2" fill="#000"/>
<rect x="941.3" y="659.6" width="2.7" height="49.4" fill="#000"/>
<rect x="938.8" y="674.7" width="5.2" height="33.3" fill="#000"/>
<rect x="946.4" y="648.5" width="2.7" height="43.4" fill="#000"/>
<rect x="943.9" y="650.5" width="5.2" height="18.2" fill="#000"/>
<rect x="951.0" y="606.1" width="2.7" height="53.4" fill="#000"/>
<rect x="948.5" y="608.2" width="5.2" height="42.4" fill="#000"/>
<rect x="956.5" y="598.1" width="2.7" height="63.5" fill="#d4002c"/>
<rect x="954.0" y="608.2" width="5.2" height="36.3" fill="#d4002c"/>
<rect x="961.5" y="603.1" width="2.7" height="56.5" fill="#000"/>
<rect x="959.0" y="610.2" width="5.2" height="34.3" fill="#000"/>
<rect x="966.6" y="594.0" width="2.7" height="41.3" fill="#d4002c"/>
<rect x="964.1" y="615.2" width="5.2" height="8.1" fill="#d4002c"/>
<rect x="971.2" y="600.1" width="2.7" height="32.3" fill="#000"/>
<rect x="968.7" y="601.1" width="5.2" height="14.1" fill="#000"/>
<rect x="976.2" y="596.1" width="2.7" height="24.2" fill="#000"/>
<rect x="973.7" y="601.1" width="5.2" height="4.0" fill="#000"/>
<rect x="983.7" y="594.0" width="2.7" height="21.2" fill="#d4002c"/>
<rect x="988.7" y="586.5" width="2.7" height="24.0" fill="#000"/>
<rect x="986.2" y="596.1" width="5.2" height="7.2" fill="#000"/>
<rect x="994.0" y="591.3" width="2.7" height="24.0" fill="#d4002c"/>
<rect x="991.5" y="593.7" width="5.2" height="12.0" fill="#d4002c"/>
<rect x="998.3" y="574.5" width="2.7" height="31.2" fill="#000"/>
<rect x="995.8" y="588.9" width="5.2" height="12.0" fill="#000"/>
<rect x="1003.8" y="579.3" width="2.7" height="13.2" fill="#000"/>
<rect x="1001.3" y="584.1" width="5.2" height="4.8" fill="#000"/>
<rect x="1008.7" y="579.3" width="2.7" height="18.0" fill="#d4002c"/>
<rect x="1006.2" y="580.5" width="5.2" height="13.2" fill="#d4002c"/>
<rect x="1013.5" y="570.9" width="2.7" height="16.8" fill="#000"/>
<rect x="1011.0" y="578.1" width="5.2" height="8.4" fill="#000"/>
<rect x="1018.0" y="570.9" width="2.7" height="39.6" fill="#d4002c"/>
<rect x="1015.5" y="574.5" width="5.2" height="33.6" fill="#d4002c"/>
<rect x="1023.1" y="608.1" width="2.7" height="30.0" fill="#d4002c"/>
<rect x="1020.6" y="609.3" width="5.2" height="22.8" fill="#d4002c"/>
<rect x="1028.3" y="591.3" width="2.7" height="48.0" fill="#000"/>
<rect x="1025.8" y="596.1" width="5.2" height="39.6" fill="#000"/>
<rect x="1033.1" y="593.7" width="2.7" height="24.0" fill="#d4002c"/>
<rect x="1030.6" y="594.9" width="5.2" height="13.2" fill="#d4002c"/>
<rect x="1038.0" y="600.9" width="2.7" height="44.4" fill="#d4002c"/>
<rect x="1035.5" y="608.1" width="5.2" height="31.2" fill="#d4002c"/>
<rect x="1043.2" y="596.1" width="2.7" height="43.2" fill="#000"/>
<rect x="1041.9" y="605.4" width="4.7" height="33.0" fill="#fff" stroke="#000" stroke-width="1.8"/>
<rect x="1050.7" y="598.5" width="2.7" height="20.4" fill="#000"/>
<rect x="1048.2" y="603.3" width="5.2" height="4.8" fill="#000"/>
<rect x="1055.5" y="598.5" width="2.7" height="19.2" fill="#d4002c"/>
<rect x="1053.0" y="605.7" width="5.2" height="7.2" fill="#d4002c"/>
<rect x="1060.3" y="610.5" width="2.7" height="49.2" fill="#d4002c"/>
<rect x="1057.8" y="611.7" width="5.2" height="40.8" fill="#d4002c"/>
<rect x="1065.6" y="615.3" width="2.7" height="58.8" fill="#000"/>
<rect x="1063.1" y="636.9" width="5.2" height="19.2" fill="#000"/>
<rect x="1069.2" y="603.3" width="2.7" height="33.6" fill="#000"/>
<rect x="1066.7" y="604.5" width="5.2" height="30.0" fill="#000"/>
<rect x="1073.5" y="581.7" width="2.7" height="24.0" fill="#000"/>
<rect x="1071.0" y="582.9" width="5.2" height="21.6" fill="#000"/>
<rect x="1078.8" y="555.3" width="2.7" height="30.0" fill="#000"/>
<rect x="1076.3" y="556.5" width="5.2" height="27.6" fill="#000"/>
<rect x="1084.1" y="545.7" width="2.7" height="25.2" fill="#000"/>
<rect x="1081.6" y="550.5" width="5.2" height="12.0" fill="#000"/>
<rect x="1089.6" y="537.3" width="2.7" height="22.8" fill="#000"/>
<rect x="1087.1" y="544.5" width="5.2" height="6.0" fill="#000"/>
<rect x="1094.4" y="524.1" width="2.7" height="28.8" fill="#000"/>
<rect x="1091.9" y="527.7" width="5.2" height="15.6" fill="#000"/>
<rect x="1099.7" y="527.7" width="2.7" height="24.0" fill="#d4002c"/>
<rect x="1097.2" y="528.9" width="5.2" height="6.0" fill="#d4002c"/>
<rect x="1104.5" y="530.1" width="2.7" height="10.8" fill="#000"/>
<rect x="1102.0" y="530.1" width="5.2" height="4.8" fill="#000"/>
<rect x="1110.0" y="497.6" width="2.7" height="43.2" fill="#000"/>
<rect x="1108.7" y="499.7" width="4.7" height="31.8" fill="#fff" stroke="#000" stroke-width="1.8"/>
<rect x="1116.7" y="489.2" width="2.7" height="21.6" fill="#d4002c"/>
<rect x="1114.2" y="496.4" width="5.2" height="13.2" fill="#d4002c"/>
<rect x="1122.0" y="494.0" width="2.7" height="16.8" fill="#000"/>
<rect x="1119.5" y="503.6" width="5.2" height="4.8" fill="#000"/>
<rect x="1126.8" y="496.4" width="2.7" height="13.2" fill="#d4002c"/>
<rect x="1124.3" y="497.6" width="5.2" height="10.8" fill="#d4002c"/>
<rect x="1131.6" y="474.8" width="2.7" height="36.0" fill="#000"/>
<rect x="1129.1" y="476.0" width="5.2" height="33.6" fill="#000"/>
<rect x="1136.4" y="455.3" width="2.7" height="25.4" fill="#000"/>
<rect x="1133.9" y="457.6" width="5.2" height="20.8" fill="#000"/>
<rect x="1141.8" y="437.6" width="2.7" height="29.2" fill="#d4002c"/>
<rect x="1139.3" y="449.9" width="5.2" height="11.5" fill="#d4002c"/>
<rect x="1146.7" y="429.9" width="2.7" height="34.6" fill="#000"/>
<rect x="1144.2" y="430.7" width="5.2" height="30.7" fill="#000"/>
<rect x="1151.3" y="418.4" width="2.7" height="41.5" fill="#000"/>
<rect x="1148.8" y="419.2" width="5.2" height="25.4" fill="#000"/>
<rect x="1156.8" y="405.3" width="2.7" height="31.5" fill="#d4002c"/>
<rect x="1154.3" y="416.8" width="5.2" height="15.4" fill="#d4002c"/>
<rect x="1161.7" y="413.0" width="2.7" height="51.5" fill="#d4002c"/>
<rect x="1159.2" y="414.5" width="5.2" height="34.6" fill="#d4002c"/>
<rect x="1167.1" y="443.0" width="2.7" height="28.4" fill="#d4002c"/>
<rect x="1164.6" y="445.3" width="5.2" height="4.6" fill="#d4002c"/>
<rect x="1171.7" y="440.7" width="2.7" height="18.4" fill="#000"/>
<rect x="1169.2" y="445.3" width="5.2" height="2.3" fill="#000"/>
<rect x="1176.8" y="443.0" width="2.7" height="23.8" fill="#d4002c"/>
<rect x="1174.3" y="444.5" width="5.2" height="13.1" fill="#d4002c"/>
<rect x="1183.3" y="428.4" width="2.7" height="30.7" fill="#000"/>
<rect x="1180.8" y="429.9" width="5.2" height="27.7" fill="#000"/>
<rect x="1189.1" y="423.0" width="2.7" height="24.6" fill="#d4002c"/>
<rect x="1186.6" y="433.0" width="5.2" height="8.5" fill="#d4002c"/>
<rect x="1194.0" y="424.5" width="2.7" height="24.6" fill="#000"/>
<rect x="1191.5" y="433.8" width="5.2" height="9.2" fill="#000"/>
<rect x="1198.6" y="413.8" width="2.7" height="23.1" fill="#000"/>
<rect x="1196.1" y="423.8" width="5.2" height="10.8" fill="#000"/>
<rect x="1203.6" y="413.0" width="2.7" height="13.1" fill="#000"/>
<rect x="1201.1" y="419.9" width="5.2" height="2.3" fill="#000"/>
<rect x="1208.6" y="413.0" width="2.7" height="34.6" fill="#d4002c"/>
<rect x="1206.1" y="419.9" width="5.2" height="14.6" fill="#d4002c"/>
<rect x="1213.2" y="418.4" width="2.7" height="16.9" fill="#000"/>
<rect x="1210.7" y="419.2" width="5.2" height="15.4" fill="#000"/>
<rect x="1218.3" y="399.9" width="2.7" height="20.0" fill="#000"/>
<rect x="1215.8" y="403.8" width="5.2" height="14.6" fill="#000"/>
<rect x="1223.7" y="396.1" width="2.7" height="16.1" fill="#000"/>
<rect x="1221.2" y="396.9" width="5.2" height="9.2" fill="#000"/>
<rect x="1228.6" y="386.9" width="2.7" height="17.7" fill="#000"/>
<rect x="1226.1" y="395.3" width="5.2" height="4.6" fill="#000"/>
<rect x="1233.2" y="382.3" width="2.7" height="17.7" fill="#000"/>
<rect x="1230.7" y="386.1" width="5.2" height="10.8" fill="#000"/>
<rect x="1238.3" y="378.4" width="2.7" height="18.4" fill="#000"/>
<rect x="1235.8" y="381.5" width="5.2" height="3.1" fill="#000"/>
<rect x="1243.5" y="373.0" width="2.7" height="29.2" fill="#d4002c"/>
<rect x="1241.0" y="376.1" width="5.2" height="8.5" fill="#d4002c"/>
<rect x="1250.1" y="378.4" width="2.7" height="23.8" fill="#d4002c"/>
<rect x="1247.6" y="383.0" width="5.2" height="15.4" fill="#d4002c"/>
<rect x="1255.5" y="390.7" width="2.7" height="39.2" fill="#000"/>
<rect x="1253.0" y="391.5" width="5.2" height="5.4" fill="#000"/>
<rect x="1260.1" y="383.0" width="2.7" height="15.4" fill="#000"/>
<rect x="1257.6" y="384.6" width="5.2" height="10.8" fill="#000"/>
<rect x="1264.7" y="383.8" width="2.7" height="33.1" fill="#d4002c"/>
<rect x="1262.2" y="383.8" width="5.2" height="28.4" fill="#d4002c"/>
<rect x="1270.1" y="403.0" width="2.7" height="26.9" fill="#000"/>
<rect x="1267.6" y="411.5" width="5.2" height="2.3" fill="#000"/>
<rect x="1274.7" y="410.7" width="2.7" height="33.8" fill="#d4002c"/>
<rect x="1272.2" y="412.2" width="5.2" height="30.7" fill="#d4002c"/>
<rect x="1279.8" y="403.8" width="2.7" height="43.8" fill="#000"/>
<rect x="1277.3" y="404.6" width="5.2" height="40.7" fill="#000"/>
<rect x="1285.0" y="393.8" width="2.7" height="18.4" fill="#000"/>
<rect x="1282.5" y="400.7" width="5.2" height="3.8" fill="#000"/>
<rect x="1290.1" y="395.3" width="2.7" height="15.4" fill="#000"/>
<rect x="1287.6" y="398.4" width="5.2" height="4.6" fill="#000"/>
<rect x="1295.2" y="381.5" width="2.7" height="18.4" fill="#000"/>
<rect x="1292.7" y="383.0" width="5.2" height="15.4" fill="#000"/>
<rect x="1300.1" y="374.6" width="2.7" height="23.1" fill="#000"/>
<rect x="1297.6" y="376.1" width="5.2" height="11.5" fill="#000"/>
<rect x="1305.0" y="361.5" width="2.7" height="18.4" fill="#000"/>
<rect x="1302.5" y="366.1" width="5.2" height="10.8" fill="#000"/>
<rect x="1310.4" y="346.1" width="2.7" height="24.6" fill="#000"/>
<rect x="1309.1" y="352.4" width="4.7" height="12.0" fill="#fff" stroke="#000" stroke-width="1.8"/>
<rect x="1316.3" y="335.4" width="2.7" height="16.6" fill="#000"/>
<rect x="1313.8" y="337.6" width="5.2" height="13.3" fill="#000"/>
<rect x="1321.8" y="335.4" width="2.7" height="15.5" fill="#d4002c"/>
<rect x="1319.3" y="336.5" width="5.2" height="11.0" fill="#d4002c"/>
<rect x="1327.4" y="336.5" width="2.7" height="18.8" fill="#d4002c"/>
<rect x="1324.9" y="337.6" width="5.2" height="12.2" fill="#d4002c"/>
<rect x="1332.9" y="335.4" width="2.7" height="27.6" fill="#d4002c"/>
<rect x="1330.4" y="342.0" width="5.2" height="12.2" fill="#d4002c"/>
<rect x="1337.3" y="336.5" width="2.7" height="21.0" fill="#d4002c"/>
<rect x="1334.8" y="343.1" width="5.2" height="13.3" fill="#d4002c"/>
<rect x="1342.4" y="346.5" width="2.7" height="26.5" fill="#d4002c"/>
<rect x="1339.9" y="349.8" width="5.2" height="22.1" fill="#d4002c"/>
<rect x="1347.3" y="354.2" width="2.7" height="55.2" fill="#d4002c"/>
<rect x="1344.8" y="366.4" width="5.2" height="40.9" fill="#d4002c"/>
<rect x="1352.3" y="380.7" width="2.7" height="58.6" fill="#d4002c"/>
<rect x="1349.8" y="398.4" width="5.2" height="17.7" fill="#d4002c"/>
<rect x="503.8" y="329.5" width="2.6" height="7.5" fill="#000"/>
<line x1="479.9" y1="328.7" x2="1332.7" y2="333.5" stroke="#1010ee" stroke-width="4.6"/>
<g stroke="#14f014" stroke-linecap="butt" fill="none">
<line x1="299.7" y1="410.4" x2="475.2" y2="323.2" stroke-width="4.6"/>
<polyline points="432.8,318.5 475.2,323.2 465.7,355.1" stroke-width="4.4" stroke-linejoin="round"/>
</g>
<g stroke="#14f014" stroke-linecap="butt" fill="none">
<line x1="1146.9" y1="419.3" x2="1317.0" y2="333.3" stroke-width="4.6"/>
<polyline points="1275.9,332.7 1317.0,333.3 1290.3,358.4" stroke-width="4.8" stroke-linejoin="round"/>
</g>
<g stroke="#ff1212" stroke-linecap="butt" fill="none">
<line x1="505" y1="338" x2="546.8" y2="523.5" stroke-width="4.3"/>
<polyline points="516.8,506.3 546.8,523.5 555.8,495.5" stroke-width="4.3" stroke-linejoin="round"/>
</g>
<g stroke="#ff1212" stroke-linecap="butt" fill="none">
<line x1="1320.9" y1="348.7" x2="1362.2" y2="526.5" stroke-width="4.3"/>
<polyline points="1336.9,499 1362.2,526.5 1367.8,492.3" stroke-width="4.3" stroke-linejoin="round"/>
</g>
<line x1="294.4" y1="121" x2="531.2" y2="150.5" stroke="#f40c0c" stroke-width="4.8"/>
<line x1="1137.8" y1="121" x2="1367.3" y2="155.8" stroke="#f40c0c" stroke-width="4.8"/>
<text x="11.3" y="33.4" font-size="33" font-weight="bold" fill="#000" font-family="Liberation Sans, sans-serif" textLength="123.4" lengthAdjust="spacingAndGlyphs">$BRENT</text>
<text x="141.6" y="31.2" font-size="25" font-weight="normal" fill="#000" font-family="Liberation Sans, sans-serif" textLength="527.4" lengthAdjust="spacing">Brent Crude Oil - Continuous Contract (EOD)</text>
<text x="680.5" y="30.4" font-size="20.8" font-weight="normal" fill="#000" font-family="Liberation Sans, sans-serif" textLength="38.8" lengthAdjust="spacingAndGlyphs">ICE</text>
<text x="9.0" y="63.5" font-size="22" font-weight="normal" fill="#000" font-family="Liberation Sans, sans-serif" textLength="134.6" lengthAdjust="spacing">3-Dec-2021</text>
<text x="558.0" y="63.5" font-size="25.3" font-weight="bold" fill="#000" stroke="#000" stroke-width="0.5" font-family="Liberation Sans, sans-serif" textLength="70.4" lengthAdjust="spacingAndGlyphs">Open</text>
<text x="637.7" y="63.5" font-size="22.5" font-weight="normal" fill="#000" font-family="Liberation Sans, sans-serif" textLength="64.8" lengthAdjust="spacingAndGlyphs">72.65</text>
<text x="718.9" y="63.5" font-size="25.3" font-weight="bold" fill="#000" stroke="#000" stroke-width="0.5" font-family="Liberation Sans, sans-serif" textLength="57.8" lengthAdjust="spacingAndGlyphs">High</text>
<text x="785.3" y="63.5" font-size="22.5" font-weight="normal" fill="#000" font-family="Liberation Sans, sans-serif" textLength="67.1" lengthAdjust="spacingAndGlyphs">75.94</text>
<text x="866.5" y="63.5" font-size="25.3" font-weight="bold" fill="#000" stroke="#000" stroke-width="0.5" font-family="Liberation Sans, sans-serif" textLength="58.5" lengthAdjust="spacingAndGlyphs">Low</text>
<text x="932.6" y="63.5" font-size="22.5" font-weight="normal" fill="#000" font-family="Liberation Sans, sans-serif" textLength="66.4" lengthAdjust="spacingAndGlyphs">65.72</text>
<text x="1014.8" y="63.5" font-size="25.3" font-weight="bold" fill="#000" stroke="#000" stroke-width="0.5" font-family="Liberation Sans, sans-serif" textLength="77.8" lengthAdjust="spacingAndGlyphs">Close</text>
<text x="1103.2" y="63.5" font-size="22.5" font-weight="normal" fill="#000" font-family="Liberation Sans, sans-serif" textLength="66.5" lengthAdjust="spacingAndGlyphs">70.14</text>
<text x="1183.8" y="63.5" font-size="25.3" font-weight="bold" fill="#000" stroke="#000" stroke-width="0.5" font-family="Liberation Sans, sans-serif" textLength="105.1" lengthAdjust="spacingAndGlyphs">Volume</text>
<text x="1296.6" y="63.5" font-size="22.5" font-weight="normal" fill="#000" font-family="Liberation Sans, sans-serif" textLength="60.0" lengthAdjust="spacingAndGlyphs">2.4M</text>
<text x="1370.7" y="63.5" font-size="25.3" font-weight="bold" fill="#000" stroke="#000" stroke-width="0.5" font-family="Liberation Sans, sans-serif" textLength="53.6" lengthAdjust="spacingAndGlyphs">Chg</text>
<text x="1433.6" y="63.5" font-size="22.5" font-weight="normal" fill="#000" font-family="Liberation Sans, sans-serif" textLength="58.4" lengthAdjust="spacingAndGlyphs">-1.45</text>
<text x="1499.7" y="63.5" font-size="22.5" font-weight="normal" fill="#000" font-family="Liberation Sans, sans-serif" textLength="98.7" lengthAdjust="spacingAndGlyphs">(-2.03%)</text>
<polygon points="1604.8,52 1622.2,52 1613.5,61.8" fill="#c00030"/>
<text x="1399.4" y="30.5" font-size="22" font-weight="normal" fill="#666" font-family="Liberation Sans, sans-serif" textLength="223.6" lengthAdjust="spacingAndGlyphs">©StockCharts.com</text>
<rect x="12.2" y="72.7" width="231" height="27.5" fill="#fff"/>
<polygon points="18.4,96 18.4,89.5 21,84.5 23.5,80 26,77.5 27.6,75.2 29.2,75.2 29.2,81 30.7,85 33.2,89.8 35.8,85.5 38.2,84 38.2,79 38.2,96" fill="#76a07c"/>
<polyline points="18.4,96 18.4,89.5 21,84.5 23.5,80 26,77.5 27.6,75.2 29.2,75.2 29.2,81 30.7,85 33.2,89.8 35.8,85.5 38.2,84 38.2,79 38.2,96" fill="none" stroke="#050505" stroke-width="2.5" stroke-linejoin="bevel"/>
<text x="47.0" y="95.8" font-size="24.7" font-weight="normal" fill="#000" font-family="Liberation Mono, monospace" textLength="196.7" lengthAdjust="spacingAndGlyphs">RSI(14) 42.14</text>
<rect x="10.5" y="311.7" width="191.5" height="38.7" fill="#c9c9c9"/>
<text x="18.9" y="340.3" font-size="23.5" font-weight="normal" fill="#555" font-family="Liberation Sans, sans-serif" textLength="176.7" lengthAdjust="spacingAndGlyphs">17 Oct Y:101.19</text>
<rect x="202" y="314" width="173" height="26" fill="#fff"/>
<text x="201.5" y="337.5" font-size="24.7" font-weight="normal" fill="#000" font-family="Liberation Mono, monospace" textLength="173.3" lengthAdjust="spacingAndGlyphs">eekly) 70.14</text>
<text x="476.4" y="313.4" font-size="57" font-weight="normal" fill="#2020f0" font-family="Liberation Sans, sans-serif" textLength="69.6" lengthAdjust="spacingAndGlyphs">4T</text>
<text x="1279.5" y="311.6" font-size="57.5" font-weight="normal" fill="#2020f0" font-family="Liberation Sans, sans-serif" textLength="71.5" lengthAdjust="spacingAndGlyphs">4T</text>
<text x="1630.0" y="116.1" font-size="22.3" font-weight="normal" fill="#111" font-family="Liberation Sans, sans-serif" textLength="30.2" lengthAdjust="spacingAndGlyphs">90</text>
<text x="1630.0" y="157.7" font-size="22.3" font-weight="normal" fill="#111" font-family="Liberation Sans, sans-serif" textLength="30.2" lengthAdjust="spacingAndGlyphs">70</text>
<text x="1630.0" y="197.7" font-size="22.3" font-weight="normal" fill="#111" font-family="Liberation Sans, sans-serif" textLength="30.2" lengthAdjust="spacingAndGlyphs">50</text>
<text x="1630.0" y="239.3" font-size="22.3" font-weight="normal" fill="#111" font-family="Liberation Sans, sans-serif" textLength="30.2" lengthAdjust="spacingAndGlyphs">30</text>
<text x="1630.0" y="281.3" font-size="22.3" font-weight="normal" fill="#111" font-family="Liberation Sans, sans-serif" textLength="30.2" lengthAdjust="spacingAndGlyphs">10</text>
<text x="1630.0" y="345.6" font-size="22.3" font-weight="normal" fill="#111" font-family="Liberation Sans, sans-serif" textLength="30.2" lengthAdjust="spacingAndGlyphs">85</text>
<text x="1630.0" y="369.0" font-size="22.3" font-weight="normal" fill="#111" font-family="Liberation Sans, sans-serif" textLength="30.2" lengthAdjust="spacingAndGlyphs">80</text>
<text x="1630.0" y="394.0" font-size="22.3" font-weight="normal" fill="#111" font-family="Liberation Sans, sans-serif" textLength="30.2" lengthAdjust="spacingAndGlyphs">75</text>
<text x="1630.0" y="449.2" font-size="22.3" font-weight="normal" fill="#111" font-family="Liberation Sans, sans-serif" textLength="30.2" lengthAdjust="spacingAndGlyphs">65</text>
<text x="1630.0" y="480.2" font-size="22.3" font-weight="normal" fill="#111" font-family="Liberation Sans, sans-serif" textLength="30.2" lengthAdjust="spacingAndGlyphs">60</text>
<text x="1630.0" y="513.8" font-size="22.3" font-weight="normal" fill="#111" font-family="Liberation Sans, sans-serif" textLength="30.2" lengthAdjust="spacingAndGlyphs">55</text>
<text x="1630.0" y="550.6" font-size="22.3" font-weight="normal" fill="#111" font-family="Liberation Sans, sans-serif" textLength="30.2" lengthAdjust="spacingAndGlyphs">50</text>
<text x="1630.0" y="591.3" font-size="22.3" font-weight="normal" fill="#111" font-family="Liberation Sans, sans-serif" textLength="30.2" lengthAdjust="spacingAndGlyphs">45</text>
<text x="1630.0" y="636.8" font-size="22.3" font-weight="normal" fill="#111" font-family="Liberation Sans, sans-serif" textLength="30.2" lengthAdjust="spacingAndGlyphs">40</text>
<text x="1630.0" y="688.4" font-size="22.3" font-weight="normal" fill="#111" font-family="Liberation Sans, sans-serif" textLength="30.2" lengthAdjust="spacingAndGlyphs">35</text>
<text x="1630.0" y="747.9" font-size="22.3" font-weight="normal" fill="#111" font-family="Liberation Sans, sans-serif" textLength="30.2" lengthAdjust="spacingAndGlyphs">30</text>
<text x="1630.0" y="818.4" font-size="22.3" font-weight="normal" fill="#111" font-family="Liberation Sans, sans-serif" textLength="30.2" lengthAdjust="spacingAndGlyphs">25</text>
<text x="1630.0" y="904.6" font-size="22.3" font-weight="normal" fill="#111" font-family="Liberation Sans, sans-serif" textLength="30.2" lengthAdjust="spacingAndGlyphs">20</text>
<polygon points="1618,206.9 1627.5,195.9 1699.5,195.9 1699.5,217.9 1627.5,217.9" fill="#fff" stroke="#000" stroke-width="2.4" stroke-linejoin="miter"/>
<text x="1628.7" y="214.1" font-size="21" font-weight="normal" fill="#000" font-family="Liberation Sans, sans-serif" textLength="67.5" lengthAdjust="spacingAndGlyphs">42.14</text>
<polygon points="1618,413.1 1627.5,400.2 1699.5,400.2 1699.5,426.0 1627.5,426.0" fill="#fff" stroke="#000" stroke-width="2.4" stroke-linejoin="miter"/>
<text x="1630.0" y="421.6" font-size="24.5" font-weight="bold" fill="#000" font-family="Liberation Sans, sans-serif" textLength="67.0" lengthAdjust="spacingAndGlyphs">70.14</text>
<text x="21.0" y="1028.7" font-size="26" font-weight="bold" fill="#000" font-family="Liberation Sans, sans-serif" textLength="29.5" lengthAdjust="spacingAndGlyphs">17</text>
<text x="83.7" y="1028.4" font-size="22.8" font-weight="normal" fill="#111" font-family="Liberation Sans, sans-serif" textLength="41.3" lengthAdjust="spacingAndGlyphs">Apr</text>
<text x="152.3" y="1028.4" font-size="22.8" font-weight="normal" fill="#111" font-family="Liberation Sans, sans-serif" textLength="35.2" lengthAdjust="spacingAndGlyphs">Jul</text>
<text x="219.3" y="1028.4" font-size="22.8" font-weight="normal" fill="#111" font-family="Liberation Sans, sans-serif" textLength="41.8" lengthAdjust="spacingAndGlyphs">Oct</text>
<text x="287.9" y="1028.7" font-size="26" font-weight="bold" fill="#000" font-family="Liberation Sans, sans-serif" textLength="29.5" lengthAdjust="spacingAndGlyphs">18</text>
<text x="350.6" y="1028.4" font-size="22.8" font-weight="normal" fill="#111" font-family="Liberation Sans, sans-serif" textLength="41.3" lengthAdjust="spacingAndGlyphs">Apr</text>
<text x="419.5" y="1028.4" font-size="22.8" font-weight="normal" fill="#111" font-family="Liberation Sans, sans-serif" textLength="35.2" lengthAdjust="spacingAndGlyphs">Jul</text>
<text x="486.2" y="1028.4" font-size="22.8" font-weight="normal" fill="#111" font-family="Liberation Sans, sans-serif" textLength="41.8" lengthAdjust="spacingAndGlyphs">Oct</text>
<text x="559.8" y="1028.7" font-size="26" font-weight="bold" fill="#000" font-family="Liberation Sans, sans-serif" textLength="29.5" lengthAdjust="spacingAndGlyphs">19</text>
<text x="617.2" y="1028.4" font-size="22.8" font-weight="normal" fill="#111" font-family="Liberation Sans, sans-serif" textLength="41.3" lengthAdjust="spacingAndGlyphs">Apr</text>
<text x="686.4" y="1028.4" font-size="22.8" font-weight="normal" fill="#111" font-family="Liberation Sans, sans-serif" textLength="35.2" lengthAdjust="spacingAndGlyphs">Jul</text>
<text x="758.1" y="1028.4" font-size="22.8" font-weight="normal" fill="#111" font-family="Liberation Sans, sans-serif" textLength="41.8" lengthAdjust="spacingAndGlyphs">Oct</text>
<text x="827.2" y="1028.7" font-size="26" font-weight="bold" fill="#000" font-family="Liberation Sans, sans-serif" textLength="29.5" lengthAdjust="spacingAndGlyphs">20</text>
<text x="889.2" y="1028.4" font-size="22.8" font-weight="normal" fill="#111" font-family="Liberation Sans, sans-serif" textLength="41.3" lengthAdjust="spacingAndGlyphs">Apr</text>
<text x="958.6" y="1028.4" font-size="22.8" font-weight="normal" fill="#111" font-family="Liberation Sans, sans-serif" textLength="35.2" lengthAdjust="spacingAndGlyphs">Jul</text>
<text x="1025.3" y="1028.4" font-size="22.8" font-weight="normal" fill="#111" font-family="Liberation Sans, sans-serif" textLength="41.8" lengthAdjust="spacingAndGlyphs">Oct</text>
<text x="1094.2" y="1028.7" font-size="26" font-weight="bold" fill="#000" font-family="Liberation Sans, sans-serif" textLength="29.5" lengthAdjust="spacingAndGlyphs">21</text>
<text x="1156.5" y="1028.4" font-size="22.8" font-weight="normal" fill="#111" font-family="Liberation Sans, sans-serif" textLength="41.3" lengthAdjust="spacingAndGlyphs">Apr</text>
<text x="1225.9" y="1028.4" font-size="22.8" font-weight="normal" fill="#111" font-family="Liberation Sans, sans-serif" textLength="35.2" lengthAdjust="spacingAndGlyphs">Jul</text>
<text x="1292.6" y="1028.4" font-size="22.8" font-weight="normal" fill="#111" font-family="Liberation Sans, sans-serif" textLength="41.8" lengthAdjust="spacingAndGlyphs">Oct</text>
<text x="1361.7" y="1028.7" font-size="26" font-weight="bold" fill="#000" font-family="Liberation Sans, sans-serif" textLength="29.5" lengthAdjust="spacingAndGlyphs">22</text>
<text x="1423.7" y="1028.4" font-size="22.8" font-weight="normal" fill="#111" font-family="Liberation Sans, sans-serif" textLength="41.3" lengthAdjust="spacingAndGlyphs">Apr</text>
<text x="1492.4" y="1028.4" font-size="22.8" font-weight="normal" fill="#111" font-family="Liberation Sans, sans-serif" textLength="35.2" lengthAdjust="spacingAndGlyphs">Jul</text>
<text x="1559.8" y="1028.4" font-size="22.8" font-weight="normal" fill="#111" font-family="Liberation Sans, sans-serif" textLength="41.8" lengthAdjust="spacingAndGlyphs">Oct</text>
</svg>
<svg width="1706" height="60" viewBox="0 0 1706 60" style="position:absolute;left:0;top:0"><defs><filter id="sh" x="-30%" y="-30%" width="160%" height="160%"><feGaussianBlur stdDeviation="1.6"/></filter></defs><ellipse cx="1698" cy="6" rx="28" ry="29" fill="#000" opacity=".45" filter="url(#sh)"/><circle cx="1698" cy="2.5" r="29.3" fill="#2e2e2e"/><circle cx="1698" cy="2.5" r="26" fill="none" stroke="#fff" stroke-width="2.6"/><text x="1694.5" y="18.8" font-size="38" font-weight="bold" fill="#fff" stroke="#fff" stroke-width="1.6" text-anchor="middle" font-family="Liberation Sans, sans-serif" textLength="23" lengthAdjust="spacingAndGlyphs">X</text></svg>
</body></html>
